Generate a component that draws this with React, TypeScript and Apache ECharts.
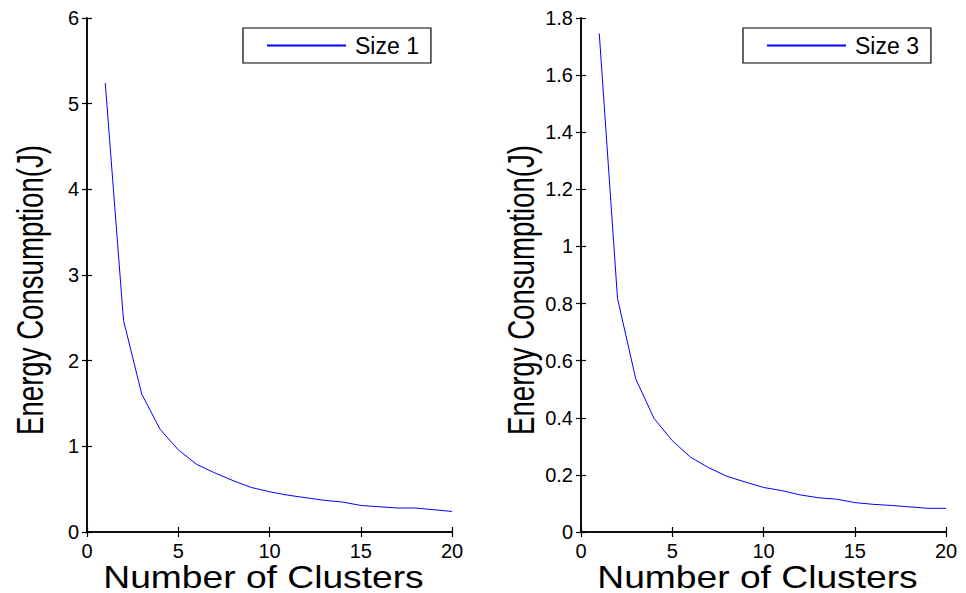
import React, { useEffect, useRef } from "react";
import * as echarts from "echarts";

const clusters = [1, 2, 3, 4, 5, 6, 7, 8, 9, 10, 11, 12, 13, 14, 15, 16, 17, 18, 19, 20];
const size1 = [5.24, 2.47, 1.61, 1.2, 0.96, 0.79, 0.69, 0.6, 0.52, 0.47, 0.43, 0.4, 0.37, 0.35, 0.31, 0.295, 0.28, 0.28, 0.26, 0.24];
const size3 = [1.746, 0.818, 0.536, 0.398, 0.32, 0.262, 0.225, 0.195, 0.175, 0.156, 0.145, 0.13, 0.12, 0.115, 0.103, 0.097, 0.093, 0.088, 0.083, 0.083];
const seriesNames = ["Size 1", "Size 3"];
const xLabel = "Number of Clusters";
const yLabel = "Energy Consumption(J)";

const FONT = "Liberation Sans, Arial, sans-serif";

export default function App() {
  const ref = useRef<HTMLDivElement>(null);
  useEffect(() => {
    if (!ref.current) return;
    const chart = echarts.init(ref.current, null, { renderer: "svg" });
    const grids = [
      { left: 87, top: 18, width: 365, height: 514 },
      { left: 581, top: 18, width: 365, height: 514 },
    ];
    const axisLine = { show: true, lineStyle: { color: "#000", width: 1.5 } };
    const tick = { show: true, inside: true, length: 5, lineStyle: { color: "#000", width: 1.2 } };
    const label = { color: "#000", fontSize: 20, fontFamily: FONT };
    const xAxes: any[] = [];
    const yAxes: any[] = [];
    const yMax = [6, 1.8];
    const yInt = [1, 0.2];
    [0, 1].forEach((g) => {
      xAxes.push({
        type: "value", gridIndex: g, min: 0, max: 20, interval: 5, position: "bottom",
        axisLine, axisTick: tick, splitLine: { show: false },
        axisLabel: { ...label, margin: 9 },
      });
      yAxes.push({
        type: "value", gridIndex: g, min: 0, max: yMax[g], interval: yInt[g], position: "left",
        axisLine, axisTick: tick, splitLine: { show: false },
        axisLabel: { ...label, margin: 8, formatter: (v: number) => String(+v.toFixed(1)) },
      });
    });
    [0, 1].forEach((g) => {
      xAxes.push({
        type: "value", gridIndex: g, min: 0, max: 20, interval: 5, position: "top",
        axisLine, axisTick: tick, splitLine: { show: false }, axisLabel: { show: false },
      });
      yAxes.push({
        type: "value", gridIndex: g, min: 0, max: yMax[g], interval: yInt[g], position: "right",
        axisLine, axisTick: tick, splitLine: { show: false }, axisLabel: { show: false },
      });
    });
    const datasets = [size1, size3];
    const series = [0, 1].map((g) => ({
      name: seriesNames[g],
      type: "line",
      xAxisIndex: g,
      yAxisIndex: g,
      symbol: "none",
      lineStyle: { color: "#0000ff", width: 1 },
      itemStyle: { color: "#0000ff" },
      data: clusters.map((c, i) => [c, datasets[g][i]]),
    }));
    const legendBase = {
      top: 28,
      orient: "horizontal",
      itemWidth: 79,
      itemHeight: 2,
      icon: "rect",
      backgroundColor: "#fff",
      borderColor: "#000",
      borderWidth: 1.2,
      borderRadius: 0,
      padding: [6, 12, 6, 24],
      textStyle: { color: "#000", fontSize: 23, fontFamily: FONT, padding: [0, 0, 0, 4] },
    };
    const titles: any[] = [];
    [0, 1].forEach((g) => {
      const gr = grids[g];
      titles.push({
        type: "text",
        x: gr.left + gr.width / 2 - 6,
        y: 577,
        scaleX: 1.2,
        style: { text: xLabel, font: `31px ${FONT}`, fill: "#000", textAlign: "center", textVerticalAlign: "middle" },
      });
      titles.push({
        type: "text",
        x: g === 0 ? 30 : 521,
        y: 290,
        rotation: Math.PI / 2,
        scaleX: 0.863,
        scaleY: 1.17,
        style: { text: yLabel, font: `32px ${FONT}`, fill: "#000", textAlign: "center", textVerticalAlign: "middle" },
      });
    });
    chart.setOption({
      animation: false,
      backgroundColor: "#fff",
      grid: grids,
      xAxis: xAxes,
      yAxis: yAxes,
      legend: [
        { ...legendBase, left: 243, data: [seriesNames[0]] },
        { ...legendBase, left: 743, data: [seriesNames[1]] },
      ],
      series,
      graphic: titles,
    });
    return () => chart.dispose();
  }, []);
  return <div ref={ref} style={{ width: 966, height: 593, position: "absolute", left: 0, top: 0 }} />;
}
